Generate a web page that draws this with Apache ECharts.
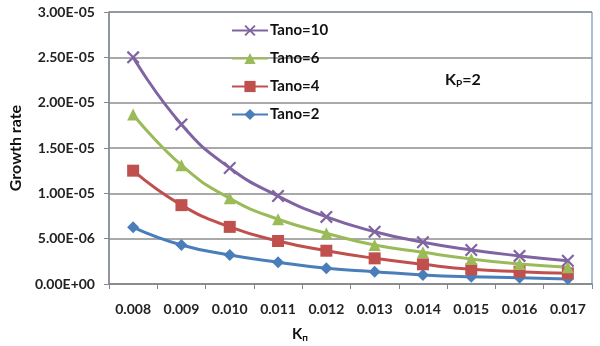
<!DOCTYPE html>
<html>
<head>
<meta charset="utf-8">
<script src="https://cdn.jsdelivr.net/npm/echarts@6/dist/echarts.min.js"></script>
<style>
  html, body { margin: 0; padding: 0; background: #fff; }
  #main { width: 600px; height: 346px; }
</style>
</head>
<body>
<div id="main"></div>
<script>
var categories = ['0.008', '0.009', '0.010', '0.011', '0.012', '0.013', '0.014', '0.015', '0.016', '0.017'];
var tano10 = [2.50e-5, 1.76e-5, 1.28e-5, 0.97e-5, 0.74e-5, 0.577e-5, 0.46e-5, 0.375e-5, 0.31e-5, 0.257e-5];
var tano6 = [1.87e-5, 1.31e-5, 0.945e-5, 0.714e-5, 0.56e-5, 0.43e-5, 0.35e-5, 0.276e-5, 0.22e-5, 0.184e-5];
var tano4 = [1.25e-5, 0.87e-5, 0.63e-5, 0.474e-5, 0.367e-5, 0.283e-5, 0.217e-5, 0.162e-5, 0.136e-5, 0.118e-5];
var tano2 = [0.625e-5, 0.43e-5, 0.32e-5, 0.24e-5, 0.173e-5, 0.136e-5, 0.10e-5, 0.08e-5, 0.07e-5, 0.055e-5];

var chartDom = document.getElementById('main');
var myChart = echarts.init(chartDom);
var option;

var font = 'Lato, "Open Sans", sans-serif';
var crossPath = 'path://M0,1.2 L1.2,0 L5,3.8 L8.8,0 L10,1.2 L6.2,5 L10,8.8 L8.8,10 L5,6.2 L1.2,10 L0,8.8 L3.8,5 Z';

function sci(v) {
  var s = v.toExponential(2).split('e');
  var e = parseInt(s[1], 10);
  var sign = e < 0 ? '-' : '+';
  var a = Math.abs(e);
  return s[0] + 'E' + sign + (a < 10 ? '0' + a : a);
}

function makeSeries(name, data, color, symbol, size) {
  return {
    name: name,
    type: 'line',
    smooth: true,
    data: data,
    symbol: symbol,
    symbolSize: size,
    lineStyle: { color: color, width: 3 },
    itemStyle: { color: color },
  };
}

option = {
  animation: false,
  title: [
    {
      text: '{a|K}{b|P}{a|=2}',
      left: 440,
      top: 66,
      textStyle: {
        rich: {
          a: { fontFamily: font, fontWeight: 'bold', fontSize: 16, color: '#111', lineHeight: 18 },
          b: { fontFamily: font, fontWeight: 'bold', fontSize: 10, color: '#111', verticalAlign: 'bottom', lineHeight: 12 },
        },
      },
    },
    {
      text: '{a|K}{b|п}',
      left: 287,
      top: 321,
      textStyle: {
        rich: {
          a: { fontFamily: font, fontWeight: 'bold', fontSize: 15, color: '#111', lineHeight: 17 },
          b: { fontFamily: font, fontWeight: 'bold', fontSize: 10, color: '#111', verticalAlign: 'bottom', lineHeight: 11 },
        },
      },
    },
  ],
  legend: {
    orient: 'vertical',
    left: 226,
    top: 18,
    itemGap: 13,
    itemWidth: 36,
    itemHeight: 14,
    data: ['Tano=10', 'Tano=6', 'Tano=4', 'Tano=2'],
    textStyle: { fontFamily: font, fontWeight: 'bold', fontSize: 15, lineHeight: 14, color: '#111', padding: [0, 0, 0, -3] },
  },
  grid: {
    left: 104,
    right: 8,
    top: 12,
    bottom: 62,
    show: true,
    borderColor: '#4F81BD',
    borderWidth: 1,
  },
  xAxis: {
    type: 'category',
    data: categories,
    boundaryGap: true,
    axisLine: { lineStyle: { color: '#888', width: 1.5 } },
    axisTick: { show: true, interval: 0, length: 5, lineStyle: { color: '#888' } },
    axisLabel: { fontFamily: font, fontWeight: 'bold', fontSize: 14, color: '#222', margin: 18, interval: 0 },
  },
  yAxis: {
    type: 'value',
    min: 0,
    max: 3e-5,
    interval: 5e-6,
    name: 'Growth rate',
    nameLocation: 'middle',
    nameGap: 83,
    nameTextStyle: { fontFamily: font, fontWeight: 'bold', fontSize: 16, color: '#111' },
    axisLine: { show: true, lineStyle: { color: '#888', width: 1.5 } },
    axisTick: { show: true, length: 5, lineStyle: { color: '#888' } },
    axisLabel: { fontFamily: font, fontWeight: 'bold', fontSize: 14, color: '#222', margin: 14, formatter: sci },
    splitLine: { lineStyle: { color: '#8c8c8c', width: 1.5 } },
  },
  series: [
    makeSeries('Tano=2', tano2, '#4A7EBB', 'diamond', 12),
    makeSeries('Tano=4', tano4, '#C0504D', 'rect', 12),
    makeSeries('Tano=6', tano6, '#9BBB59', 'triangle', 12),
    makeSeries('Tano=10', tano10, '#8064A2', crossPath, 13),
  ],
};

option && myChart.setOption(option);

window.onresize = function () {
  myChart.resize();
};
</script>
</body>
</html>
